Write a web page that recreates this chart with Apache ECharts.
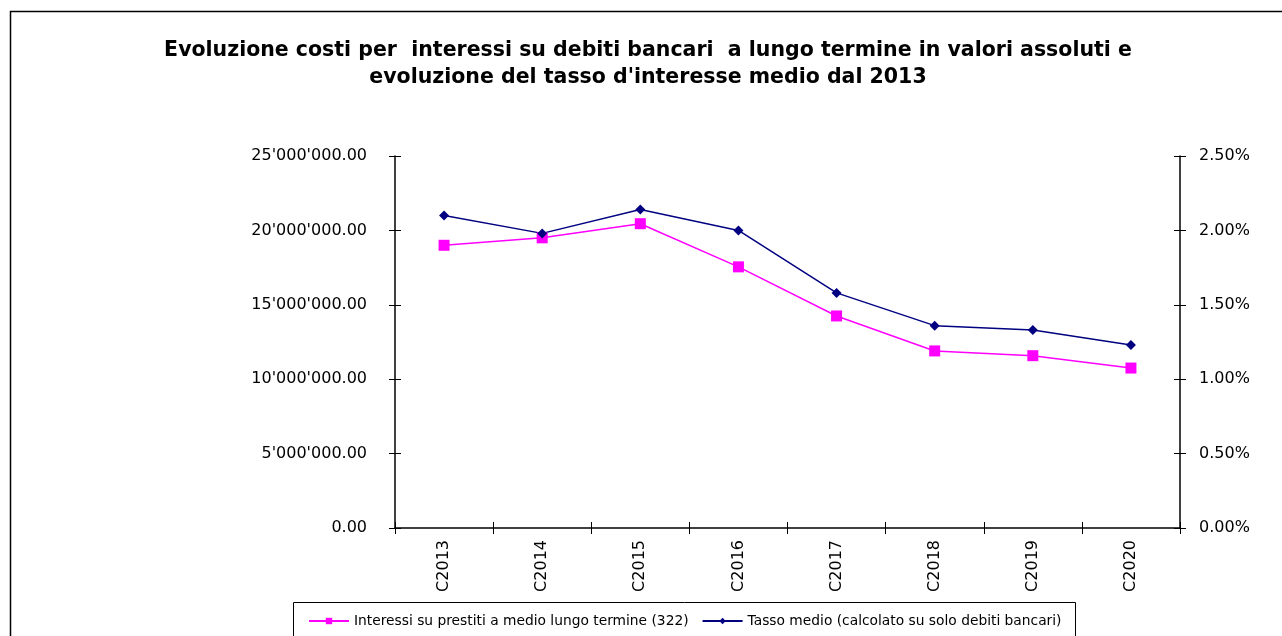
<!DOCTYPE html>
<html>
<head>
<meta charset="utf-8">
<script src="https://cdn.jsdelivr.net/npm/echarts@6/dist/echarts.min.js"></script>
<style>
  html, body { margin: 0; padding: 0; background: #fff; }
  #chart { width: 1282px; height: 636px; }
</style>
</head>
<body>
<div id="chart"></div>
<script>
// data
var categories = ['C2013', 'C2014', 'C2015', 'C2016', 'C2017', 'C2018', 'C2019', 'C2020'];
var interessi = [19000000, 19500000, 20450000, 17550000, 14250000, 11900000, 11580000, 10750000];
var tasso = [2.10, 1.98, 2.14, 2.00, 1.58, 1.36, 1.33, 1.23]; // percent
var nameInteressi = 'Interessi su prestiti a medio lungo termine (322)';
var nameTasso = 'Tasso medio (calcolato su solo debiti bancari)';
var titleText = "Evoluzione costi per  interessi su debiti bancari  a lungo termine in valori assoluti e\nevoluzione del tasso d'interesse medio dal 2013";

// 25000000 -> 25'000'000.00
function fmtAbs(v) {
  var s = Math.round(v).toString().replace(/\B(?=(\d{3})+(?!\d))/g, "'");
  return s + '.00';
}

var axisFont = { fontFamily: 'DejaVu Sans', fontSize: 16, color: '#000' };
var tickLine = { color: '#000', width: 1 };

var myChart = echarts.init(document.getElementById('chart'));
myChart.setOption({
  animation: false,
  backgroundColor: '#fff',
  graphic: [
    // outer frame
    { type: 'rect', shape: { x: 10.5, y: 11.5, width: 1290, height: 640 },
      style: { fill: 'none', stroke: '#000', lineWidth: 1.5 } },
    // legend box
    { type: 'rect', shape: { x: 293.5, y: 602.5, width: 782, height: 50 },
      style: { fill: '#fff', stroke: '#000', lineWidth: 1 } }
  ],
  title: {
    text: titleText,
    left: 643,
    top: 32,
    textAlign: 'center',
    textStyle: { fontFamily: 'DejaVu Sans', fontWeight: 'bold', fontSize: 20.5, lineHeight: 27, color: '#000' }
  },
  legend: {
    left: 308,
    top: 614,
    padding: 0,
    itemWidth: 40,
    itemHeight: 8,
    itemGap: 13,
    textStyle: { fontFamily: 'DejaVu Sans', fontSize: 13.8, color: '#000' },
    data: [nameInteressi, nameTasso]
  },
  grid: { left: 395, right: 102, top: 156, bottom: 108 },
  xAxis: [
    {
      type: 'category',
      data: categories,
      boundaryGap: true,
      axisLine: { lineStyle: { color: '#000', width: 1.5 } },
      axisTick: { show: true, length: 6, lineStyle: tickLine },
      axisLabel: Object.assign({ rotate: 90, margin: 12 }, axisFont)
    },
    {
      // inner half of the crossing ticks
      type: 'category',
      data: categories,
      position: 'bottom',
      boundaryGap: true,
      axisLine: { show: false },
      axisTick: { show: true, inside: true, length: 6, lineStyle: tickLine },
      axisLabel: { show: false }
    }
  ],
  yAxis: [
    {
      type: 'value',
      min: 0, max: 25000000, interval: 5000000,
      splitLine: { show: false },
      axisLine: { show: true, lineStyle: { color: '#000', width: 1.5 } },
      axisTick: { show: true, length: 6, lineStyle: tickLine },
      axisLabel: Object.assign({ margin: 28, formatter: fmtAbs }, axisFont)
    },
    {
      type: 'value',
      min: 0, max: 2.5, interval: 0.5,
      splitLine: { show: false },
      axisLine: { show: true, lineStyle: { color: '#000', width: 1.5 } },
      axisTick: { show: true, length: 6, lineStyle: tickLine },
      axisLabel: Object.assign({ margin: 19, formatter: function (v) { return v.toFixed(2) + '%'; } }, axisFont)
    },
    {
      type: 'value', position: 'left',
      min: 0, max: 25000000, interval: 5000000,
      splitLine: { show: false }, axisLine: { show: false }, axisLabel: { show: false },
      axisTick: { show: true, inside: true, length: 6, lineStyle: tickLine }
    },
    {
      type: 'value', position: 'right',
      min: 0, max: 2.5, interval: 0.5,
      splitLine: { show: false }, axisLine: { show: false }, axisLabel: { show: false },
      axisTick: { show: true, inside: true, length: 6, lineStyle: tickLine }
    }
  ],
  series: [
    {
      name: nameInteressi,
      type: 'line',
      data: interessi,
      yAxisIndex: 0,
      symbol: 'rect',
      symbolSize: 11,
      itemStyle: { color: '#ff00ff' },
      lineStyle: { color: '#ff00ff', width: 1.5 }
    },
    {
      name: nameTasso,
      type: 'line',
      data: tasso,
      yAxisIndex: 1,
      symbol: 'diamond',
      symbolSize: 10,
      itemStyle: { color: '#000080' },
      lineStyle: { color: '#000080', width: 1.5 }
    }
  ]
});
</script>
</body>
</html>
